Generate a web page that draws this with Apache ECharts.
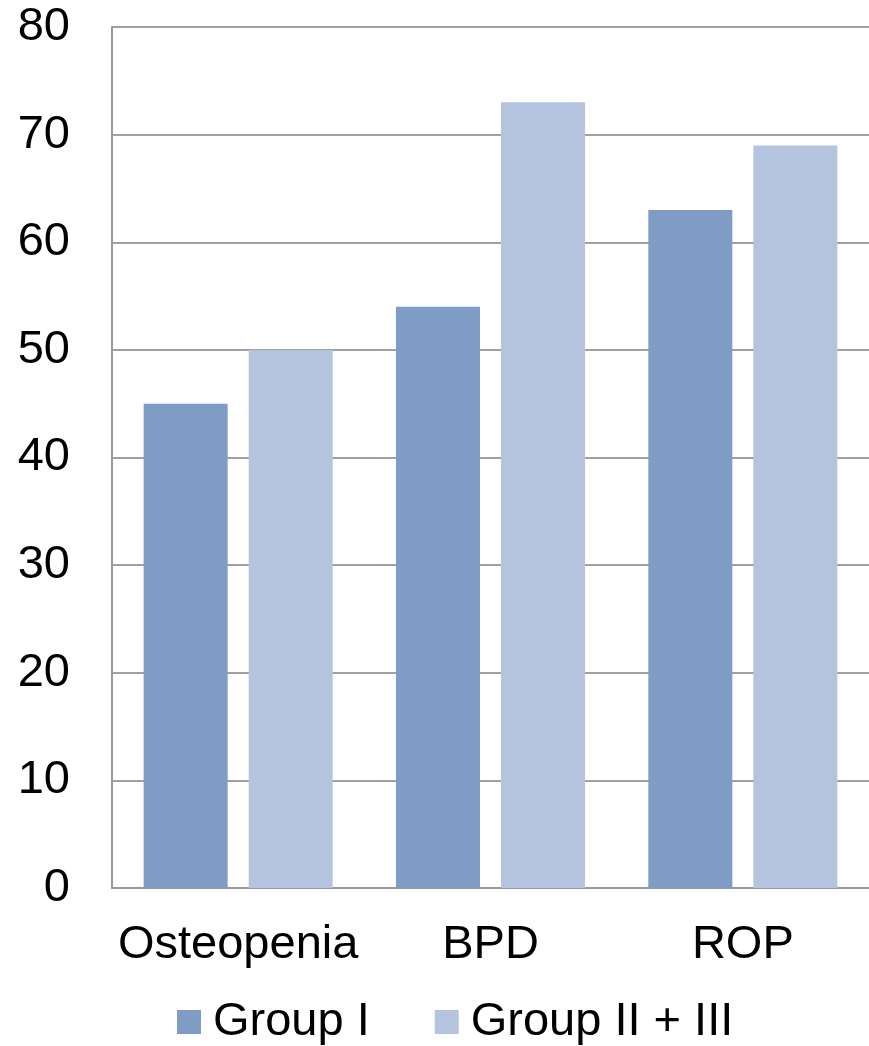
<!DOCTYPE html>
<html><head><meta charset="utf-8">
<script src="https://cdn.jsdelivr.net/npm/echarts@6/dist/echarts.min.js"></script>
<style>html,body{margin:0;padding:0;background:#fff}#c{width:869px;height:1046px}</style>
</head><body><div id="c"></div>
<script>
const categories = ['Osteopenia', 'BPD', 'ROP'];
const groupI = [45, 54, 63];
const groupII_III = [50, 73, 69];
const seriesNames = ['Group I', 'Group II + III'];

const chart = echarts.init(document.getElementById('c'), null, {renderer: 'canvas'});
const font = 'Liberation Sans, Arial, sans-serif';
chart.setOption({
  animation: false,
  textStyle: {fontFamily: font},
  grid: {left: 112, right: 0, top: 27, bottom: 158, containLabel: false},
  legend: {
    left: 177, top: 998, padding: 0,
    itemWidth: 24, itemHeight: 24, itemGap: 65,
    icon: 'rect',
    textStyle: {fontSize: 47, lineHeight: 48, color: '#000', fontFamily: font, padding: [0, 0, 0, 7]},
    data: seriesNames
  },
  xAxis: {
    type: 'category', data: categories,
    axisLine: {lineStyle: {color: '#999', width: 2}},
    axisTick: {show: false},
    axisLabel: {fontSize: 47, color: '#000', margin: 34, interval: 0, fontFamily: font}
  },
  yAxis: {
    type: 'value', min: 0, max: 80, interval: 10,
    axisLine: {show: true, lineStyle: {color: '#999', width: 2}},
    axisTick: {show: false},
    splitLine: {lineStyle: {color: '#a0a0a0', width: 2}},
    axisLabel: {fontSize: 47, color: '#000', margin: 42, fontFamily: font}
  },
  series: [
    {name: seriesNames[0], type: 'bar', data: groupI, barWidth: '33.3%', barGap: '25%',
     itemStyle: {color: '#7f9cc7'}},
    {name: seriesNames[1], type: 'bar', data: groupII_III, barWidth: '33.3%',
     itemStyle: {color: '#b5c4de'}}
  ]
});
</script></body></html>
